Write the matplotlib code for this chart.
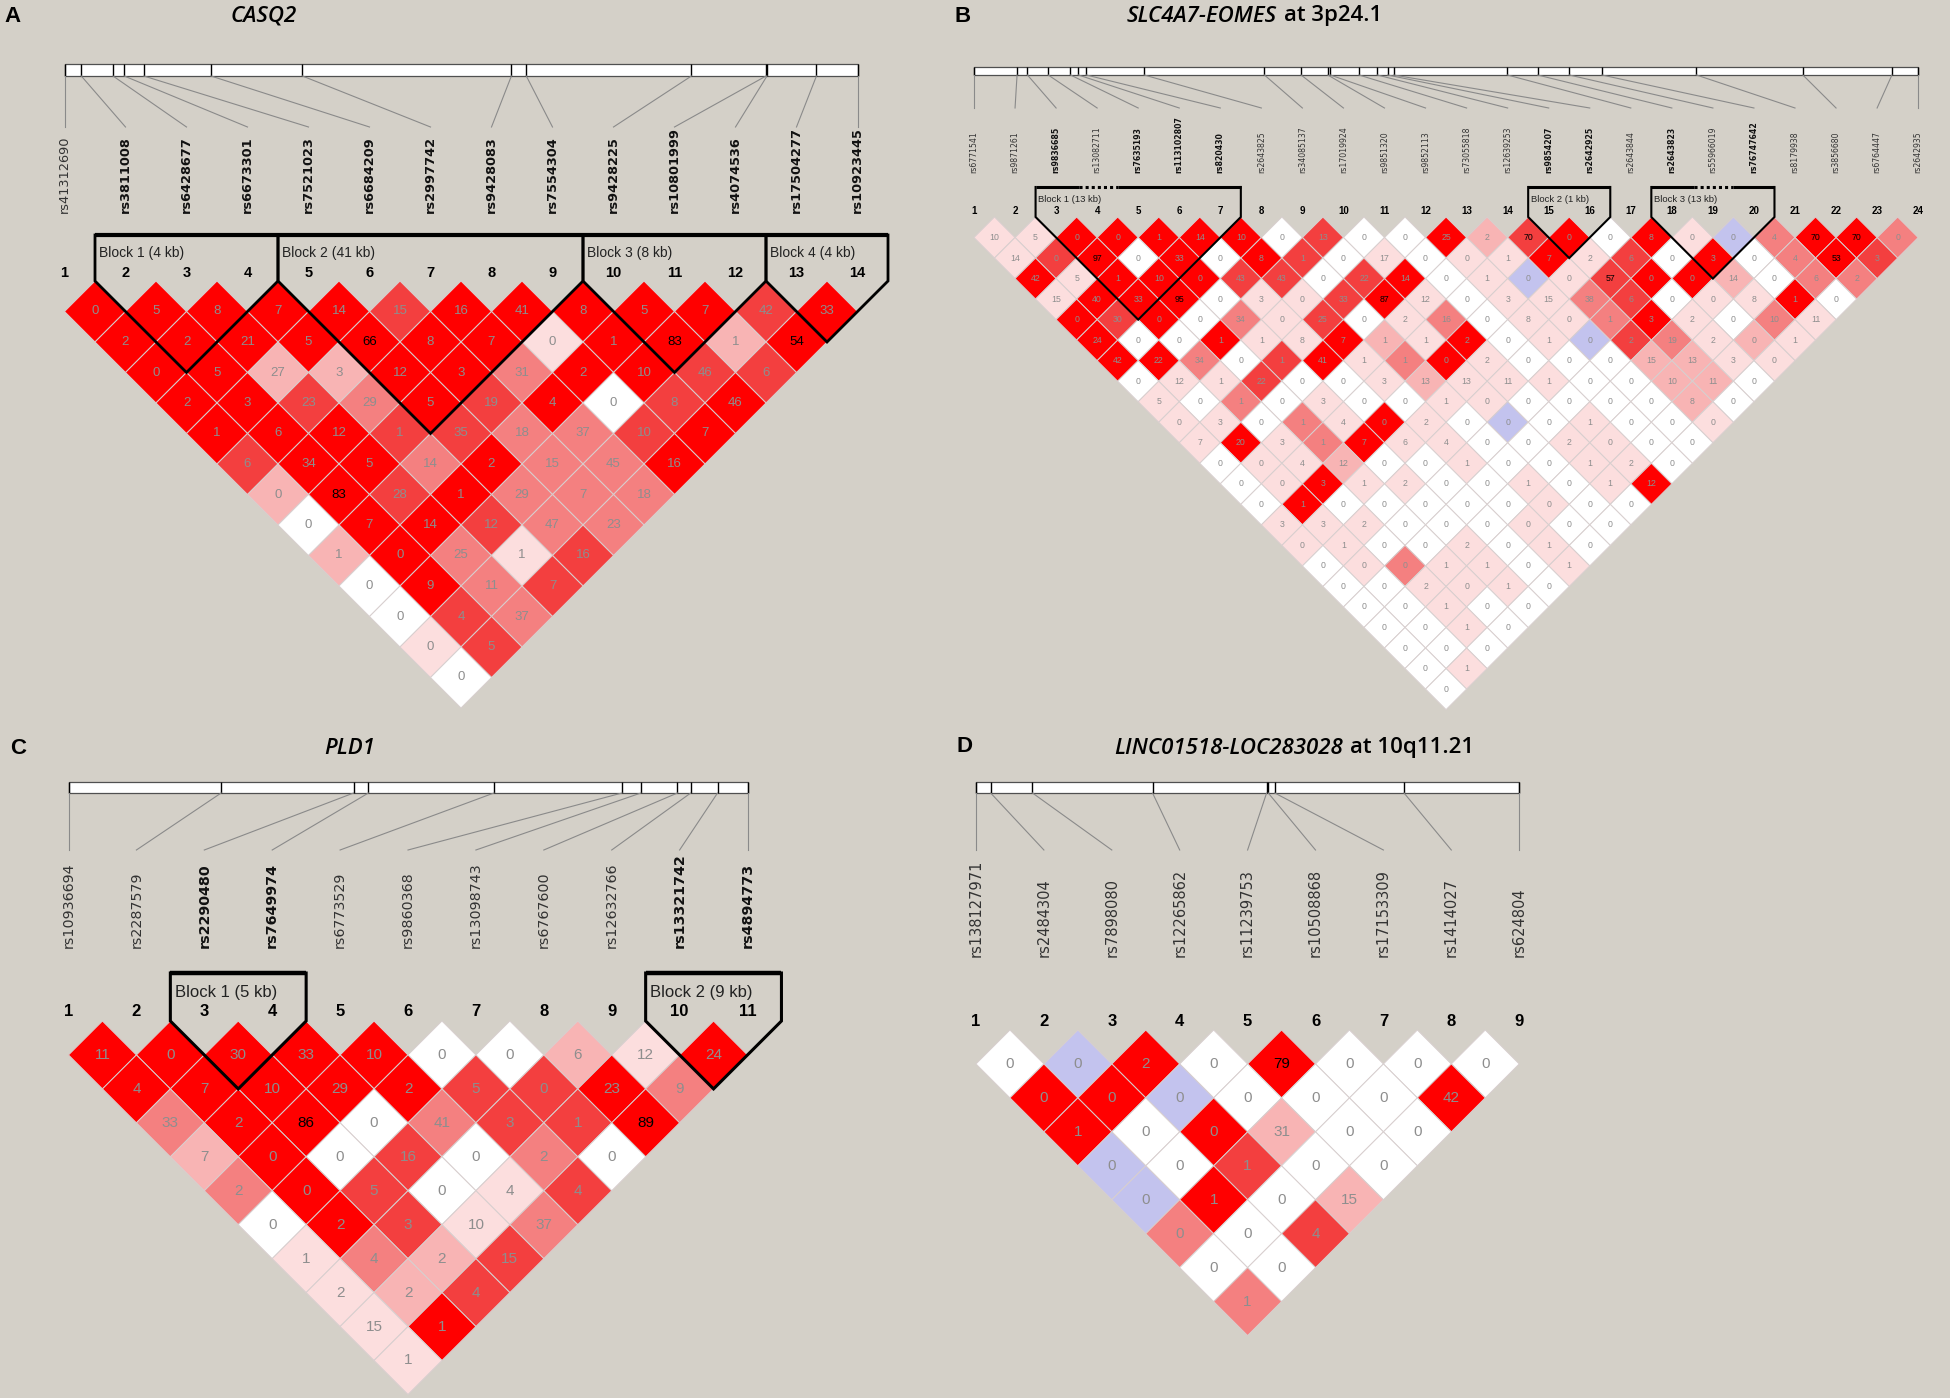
import matplotlib
matplotlib.use('Agg')
import matplotlib.pyplot as plt
from matplotlib.collections import PolyCollection
from matplotlib.patches import Rectangle

W, H = 1950, 1398
BG = '#d4d0c8'
SHADES = {'5': '#ff0000', '4': '#f33f3f', '3': '#f48080', '2': '#f8b4b4',
          '1': '#fcdede', '0': '#ffffff', 'b': '#c3c3ee'}

# ---------------- panel A: CASQ2 ----------------
a_names = ['rs41312690', 'rs3811008', 'rs6428677', 'rs6673301', 'rs7521023', 'rs6684209',
           'rs2997742', 'rs9428083', 'rs7554304', 'rs9428225', 'rs10801999', 'rs4074536',
           'rs17504277', 'rs10923445']
a_bold = [False] + [True] * 13
a_pos_kb = [0, 1.8, 5.2, 6.4, 8.5, 15.7, 25.5, 47.9, 49.5, 67.2, 75.2, 75.3, 80.6, 85.0]
a_vals = [[0, 5, 8, 7, 14, 15, 16, 41, 8, 5, 7, 42, 33],
          [2, 2, 21, 5, 66, 8, 7, 0, 1, 83, 1, 54],
          [0, 5, 27, 3, 12, 3, 31, 2, 10, 46, 6],
          [2, 3, 23, 29, 5, 19, 4, 0, 8, 46],
          [1, 6, 12, 1, 35, 18, 37, 10, 7],
          [6, 34, 5, 14, 2, 15, 45, 16],
          [0, 83, 28, 1, 29, 7, 18],
          [0, 7, 14, 12, 47, 23],
          [1, 0, 25, 1, 16],
          [0, 9, 11, 7],
          [0, 4, 37],
          [0, 5],
          [0]]
a_cols = ['5555545555545', '555555515525', '55225535544', '5543545045', '555443345',
          '45535335', '2545333', '055433', '25314', '0534', '043', '14', '0']
a_blocks = [(2, 4, 'Block 1 (4 kb)', False), (5, 9, 'Block 2 (41 kb)', False),
            (10, 12, 'Block 3 (8 kb)', False), (13, 14, 'Block 4 (4 kb)', False)]

# ---------------- panel B: SLC4A7-EOMES ----------------
b_names = ['rs6771541', 'rs9871261', 'rs9836685', 'rs13082711', 'rs7635193', 'rs113102807',
           'rs820430', 'rs2643825', 'rs34085137', 'rs17019924', 'rs9851320', 'rs9852113',
           'rs73055818', 'rs12639253', 'rs9854207', 'rs2642925', 'rs2643844', 'rs2643823',
           'rs55966019', 'rs76747642', 'rs8179938', 'rs3856680', 'rs6764447', 'rs2642935']
b_bold = [False, False, True, False, True, True, True, False, False, False, False, False,
          False, False, True, True, False, True, False, True, False, False, False, False]
b_pos_kb = [0, 8.7, 10.8, 15.0, 19.5, 21.1, 22.7, 34.4, 58.7, 66.1, 71.5, 72.0, 77.8, 81.5,
            83.6, 84.8, 107.8, 113.9, 120.3, 126.9, 146.0, 167.5, 185.5, 190.8]
b_vals = [[10, 5, 0, 0, 1, 14, 10, 0, 13, 0, 0, 25, 2, 70, 0, 0, 8, 0, 0, 4, 70, 70, 0],
          [14, 0, 97, 0, 33, 0, 8, 1, 0, 17, 0, 0, 1, 7, 2, 6, 0, 3, 0, 4, 53, 3],
          [42, 5, 1, 10, 0, 43, 43, 0, 22, 14, 0, 1, 0, 0, 57, 0, 0, 14, 0, 6, 2],
          [15, 40, 33, 95, 0, 3, 0, 33, 87, 12, 0, 3, 15, 38, 6, 0, 0, 8, 1, 0],
          [0, 30, 0, 0, 34, 0, 25, 0, 2, 16, 0, 8, 0, 1, 3, 2, 0, 10, 11],
          [24, 0, 0, 1, 1, 8, 7, 1, 1, 2, 0, 1, 0, 2, 19, 2, 0, 1],
          [42, 22, 34, 0, 1, 41, 1, 1, 0, 2, 0, 0, 0, 15, 13, 3, 0],
          [0, 12, 1, 22, 0, 0, 3, 13, 13, 11, 1, 0, 0, 10, 11, 0],
          [5, 0, 1, 0, 3, 0, 0, 1, 0, 0, 0, 0, 0, 8, 0],
          [0, 3, 0, 1, 4, 0, 2, 0, 0, 0, 1, 0, 0, 0],
          [7, 20, 3, 1, 7, 6, 4, 0, 0, 2, 0, 0, 0],
          [0, 0, 4, 12, 0, 0, 1, 0, 0, 1, 2, 0],
          [0, 0, 3, 1, 2, 0, 0, 1, 0, 1, 12],
          [0, 1, 0, 0, 0, 0, 0, 0, 0, 0],
          [3, 3, 2, 0, 0, 0, 0, 0, 0],
          [0, 1, 0, 0, 2, 0, 1, 0],
          [0, 0, 0, 1, 1, 0, 1],
          [0, 0, 2, 0, 1, 0],
          [0, 0, 1, 0, 0],
          [0, 0, 1, 0],
          [0, 0, 0],
          [0, 1],
          [0]]
b_cols = ['115555504005245051b3553', '1450505401011514050354', '515554404501b14552033',
          '15550114510113401150', '5450314013011351031', '500511521501b43121',
          '55304513510002211', '0114001211100220', '103010011000020', '11031510b01001',
          '1513511001100', '011200100110', '01511001015', '0500000100', '111000100',
          '11001010', '0131101', '001110', '00100', '0010', '000', '01', '0']
b_blocks = [(3, 7, 'Block 1 (13 kb)', True), (15, 16, 'Block 2 (1 kb)', False),
            (18, 20, 'Block 3 (13 kb)', True)]

# ---------------- panel C: PLD1 ----------------
c_names = ['rs10936694', 'rs2287579', 'rs2290480', 'rs7649974', 'rs6773529', 'rs9860368',
           'rs13098743', 'rs6767600', 'rs12632766', 'rs13321742', 'rs4894773']
c_bold = [False, False, True, True, False, False, False, False, False, True, True]
c_pos_kb = [0, 48.4, 90.4, 95.1, 134.9, 175.5, 181.5, 193.1, 197.3, 205.8, 215.3]
c_vals = [[11, 0, 30, 33, 10, 0, 0, 6, 12, 24],
          [4, 7, 10, 29, 2, 5, 0, 23, 9],
          [33, 2, 86, 0, 41, 3, 1, 89],
          [7, 0, 0, 16, 0, 2, 0],
          [2, 0, 5, 0, 4, 4],
          [0, 2, 3, 10, 37],
          [1, 4, 2, 15],
          [2, 2, 4],
          [15, 1],
          [1]]
c_cols = ['5555500215', '555554453', '35503445', '2504030', '354014', '05413', '1324',
          '124', '15', '1']
c_blocks = [(3, 4, 'Block 1 (5 kb)', False), (10, 11, 'Block 2 (9 kb)', False)]

# ---------------- panel D: LINC01518-LOC283028 ----------------
d_names = ['rs138127971', 'rs2484304', 'rs7898080', 'rs12265862', 'rs11239753',
           'rs10508868', 'rs17153309', 'rs1414027', 'rs624804']
d_bold = [False] * 9
d_pos_kb = [0, 2.7, 10.4, 32.5, 53.5, 53.8, 55.0, 78.8, 100.0]
d_vals = [[0, 0, 2, 0, 79, 0, 0, 0],
          [0, 0, 0, 0, 0, 0, 42],
          [1, 0, 0, 31, 0, 0],
          [0, 0, 1, 0, 0],
          [0, 1, 0, 15],
          [0, 0, 4],
          [0, 0],
          [1]]
d_cols = ['0b505000', '55b0005', '505200', 'b0400', 'b502', '304', '00', '3']
d_blocks = []


def draw_panel(fig, names, bold, pos, vals, cols, blocks, lay):
    x1, s, ytop = lay['x1'], lay['s'], lay['ytop']
    yu = lambda y: (y - ytop) / s
    ax = fig.add_axes([0, 0, 1, 1])
    ax.set_xlim((0 - x1) / s + 1, (W - x1) / s + 1)
    ax.set_ylim(yu(H), yu(0))
    ax.axis('off')
    ax.patch.set_alpha(0)
    n = len(names)

    # LD diamonds
    verts, faces = [], []
    for d, (row_v, row_c) in enumerate(zip(vals, cols), start=1):
        for k, (v, c) in enumerate(zip(row_v, row_c)):
            i = k + 1
            cx, cy = i + d / 2, d / 2
            verts.append([(cx, cy - 0.5), (cx + 0.5, cy), (cx, cy + 0.5), (cx - 0.5, cy)])
            faces.append(SHADES[c])
            ax.text(cx, cy, str(v), ha='center', va='center', fontsize=lay['fs_val'],
                    family='Liberation Sans',
                    color='black' if v >= 50 else '#8e8e8e')
    ax.add_collection(PolyCollection(verts, facecolors=faces, edgecolors='#d8cfcf',
                                     linewidths=0.7, zorder=1))

    # gene map
    b0, b1 = yu(lay['bar'][0]), yu(lay['bar'][1])
    ax.add_patch(Rectangle((1, b0), n - 1, b1 - b0, facecolor='white',
                           edgecolor='#505050', linewidth=0.9))
    xs = [1 + (p - pos[0]) / (pos[-1] - pos[0]) * (n - 1) for p in pos]
    ax.vlines(xs, b0, b1, color='black', linewidth=1.0)
    le = yu(lay['line_end'])
    for i, x in enumerate(xs):
        ax.plot([x, i + 1], [b1, le], color='#8a8a8a', linewidth=0.8)
    lb = yu(lay['label_bottom'])
    for i, (nm, bd) in enumerate(zip(names, bold)):
        ax.text(i + 1, lb, nm, rotation=90, ha='center', va='bottom',
                fontsize=lay['fs_label'], family='DejaVu Sans',
                fontweight='bold' if bd else 'normal',
                color='#111111' if bd else '#333333')
    ny = yu(lay['num'])
    for i in range(n):
        ax.text(i + 1, ny, str(i + 1), ha='center', va='center', fontsize=lay['fs_num'],
                family='Liberation Sans', fontweight='bold', color='black')

    # haplotype blocks
    if blocks:
        bt, bl = yu(lay['block_top']), yu(lay['block_label'])
        for st, en, lab, dotted in blocks:
            left, right = st - 0.5, en + 0.5
            vx, vy = (st + en) / 2, (en - st) / 2 + 0.5
            ax.plot([left, left, vx, right, right], [bt, 0, vy, 0, bt], color='black',
                    linewidth=lay['lw_side'], solid_joinstyle='miter', zorder=3)
            if dotted:
                ax.plot([left, st + 0.55], [bt, bt], color='black', linewidth=lay['lw_top'],
                        solid_capstyle='butt', zorder=3)
                ax.plot([st + 0.55, st + 1.5], [bt, bt], color='black', linewidth=lay['lw_top'],
                        linestyle=(0, (1, 1)), zorder=3)
                ax.plot([st + 1.5, right], [bt, bt], color='black', linewidth=lay['lw_top'],
                        solid_capstyle='butt', zorder=3)
            else:
                ax.plot([left, right], [bt, bt], color='black', linewidth=lay['lw_top'],
                        solid_capstyle='butt', zorder=3)
            ax.text(left + 0.07, bl, lab, ha='left', va='center', fontsize=lay['fs_block'],
                    family='Liberation Sans', color='#222222')
    return ax


fig = plt.figure(figsize=(W / 100, H / 100), dpi=100, facecolor=BG)

lay_a = dict(x1=64.5, s=61.0, ytop=281, bar=(64, 76), line_end=127, label_bottom=213,
             block_top=235, block_label=253, num=273, fs_label=9.3, fs_num=10.5,
             fs_val=9.5, fs_block=10, lw_top=3.0, lw_side=2.0)
lay_b = dict(x1=974, s=41.05, ytop=217, bar=(67, 75), line_end=108, label_bottom=173,
             block_top=187, block_label=200, num=211, fs_label=5.6, fs_num=7,
             fs_val=6.3, fs_block=6.8, lw_top=2.2, lw_side=1.5)
lay_c = dict(x1=68.5, s=67.9, ytop=1021, bar=(782, 793), line_end=850, label_bottom=948,
             block_top=973, block_label=992, num=1012, fs_label=10.3, fs_num=12,
             fs_val=11, fs_block=12, lw_top=3.2, lw_side=2.2)
lay_d = dict(x1=976, s=67.9, ytop=1030, bar=(782, 793), line_end=850, label_bottom=957,
             num=1021, fs_label=10.5, fs_num=12, fs_val=11)

draw_panel(fig, a_names, a_bold, a_pos_kb, a_vals, a_cols, a_blocks, lay_a)
draw_panel(fig, b_names, b_bold, b_pos_kb, b_vals, b_cols, b_blocks, lay_b)
draw_panel(fig, c_names, c_bold, c_pos_kb, c_vals, c_cols, c_blocks, lay_c)
draw_panel(fig, d_names, d_bold, d_pos_kb, d_vals, d_cols, d_blocks, lay_d)


def ftext(x, y, s, **kw):
    fig.text(x / W, 1 - y / H, s, **kw)


for letter, x, y in [('A', 4, 16), ('B', 955, 16), ('C', 10, 748), ('D', 956, 746)]:
    ftext(x, y, letter, ha='left', va='center', fontsize=16, family='Liberation Sans',
          fontweight='bold', color='black')

tkw = dict(va='center', fontsize=16, family='Open Sans', fontweight='semibold',
           color='black')
ftext(264, 16, 'CASQ2', ha='center', style='italic', **tkw)
ftext(1277, 16, 'SLC4A7-EOMES', ha='right', style='italic', **tkw)
ftext(1284, 16, 'at 3p24.1', ha='left', **tkw)
ftext(350, 748, 'PLD1', ha='center', style='italic', **tkw)
ftext(1343, 748, 'LINC01518-LOC283028', ha='right', style='italic', **tkw)
ftext(1350, 748, 'at 10q11.21', ha='left', **tkw)

fig.savefig('out.png', dpi=100, facecolor=BG)
